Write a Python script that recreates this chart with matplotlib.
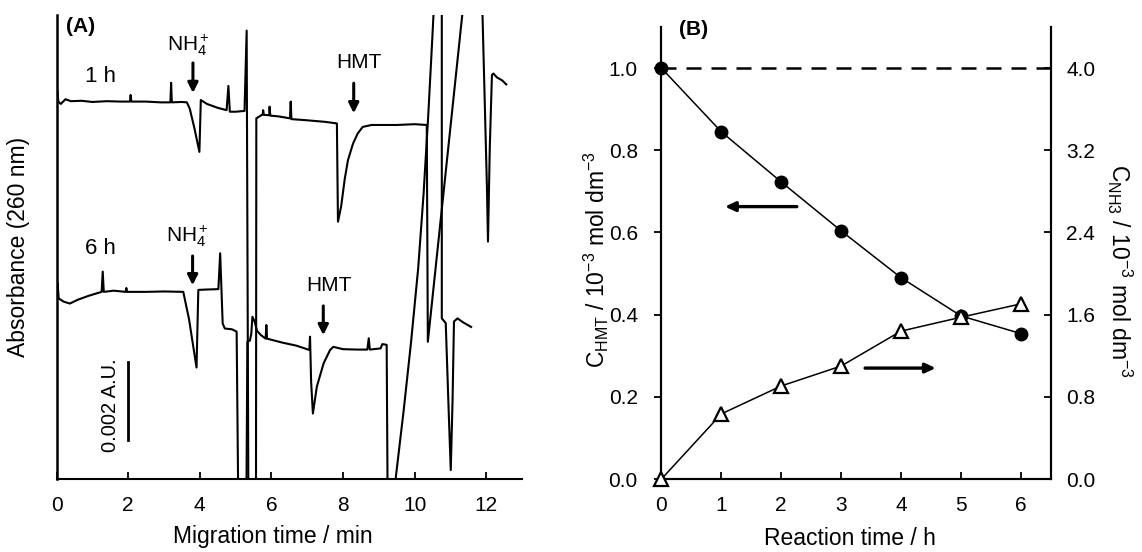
import matplotlib
matplotlib.use('Agg')
import matplotlib.pyplot as plt

plt.rcParams['font.family'] = ['Liberation Sans', 'DejaVu Sans']
plt.rcParams['mathtext.fontset'] = 'custom'
plt.rcParams['mathtext.rm'] = 'Liberation Sans'
plt.rcParams['mathtext.it'] = 'Liberation Sans:italic'
plt.rcParams['mathtext.bf'] = 'Liberation Sans:bold'

# (A) electropherograms, absorbance in mAU (0.002 A.U. = 2 mAU)
t_1h = [0.0, 0.02, 0.05, 0.12, 0.25, 0.4, 0.7, 1.0, 1.4, 1.8, 2.05, 2.07, 2.09, 2.5, 2.9,
        3.18, 3.2, 3.22, 3.5, 3.64, 3.72, 3.85, 3.99, 4.03, 4.2, 4.5, 4.75, 4.8, 4.84, 5.0,
        5.25, 5.31, 5.36, 5.57, 5.58, 5.7, 5.76, 5.77, 5.79, 5.94, 5.95, 5.97, 6.2, 6.52,
        6.54, 6.56, 7.0, 7.5, 7.83, 7.86, 7.95, 8.05, 8.14, 8.28, 8.41, 8.55, 8.8, 9.5,
        10.0, 10.34, 10.37, 11.4, 11.88, 12.02, 12.05, 12.1, 12.16, 12.2, 12.3, 12.45, 12.56]
a_1h = [9.6, 9.97, 9.68, 9.62, 9.74, 9.69, 9.7, 9.67, 9.69, 9.68, 9.68, 9.85, 9.68, 9.68, 9.66,
        9.66, 10.16, 9.66, 9.67, 9.66, 9.5, 9.0, 8.39, 9.72, 9.62, 9.52, 9.46, 10.08, 9.42, 9.42,
        9.44, 11.5, -1.0, -1.0, 9.25, 9.32, 9.35, 9.46, 9.34, 9.33, 9.55, 9.32, 9.3, 9.25,
        9.68, 9.23, 9.2, 9.16, 9.12, 6.6, 7.0, 7.7, 8.18, 8.6, 8.86, 9.03, 9.08, 9.08,
        9.1, 9.08, 3.52, 12.5, 12.5, 7.5, 6.09, 8.5, 10.36, 10.4, 10.3, 10.22, 10.12]

t_6h = [0.0, 0.03, 0.06, 0.2, 0.37, 0.6, 0.9, 1.26, 1.29, 1.32, 1.6, 1.93, 1.95, 1.97, 2.5,
        3.0, 3.54, 3.7, 3.91, 3.96, 4.2, 4.52, 4.57, 4.64, 4.7, 4.9, 5.03, 5.08, 5.3, 5.33,
        5.4, 5.44, 5.47, 5.53, 5.6, 5.71, 5.84, 5.86, 5.88, 6.3, 6.7, 7.06, 7.08, 7.11, 7.16,
        7.27, 7.46, 7.64, 7.73, 8.0, 8.4, 8.68, 8.72, 8.75, 9.05, 9.1, 9.17, 9.22, 9.25, 9.45,
        9.47, 9.7, 9.9, 10.1, 10.25, 10.38, 10.5, 10.56, 10.76, 10.76, 10.87, 10.95, 11.01,
        11.06, 11.1, 11.2, 11.35, 11.58]
a_6h = [4.55, 5.02, 4.63, 4.55, 4.5, 4.6, 4.7, 4.8, 5.32, 4.8, 4.83, 4.8, 4.9, 4.8, 4.8,
        4.81, 4.8, 4.1, 2.86, 4.85, 4.86, 4.87, 5.79, 3.99, 3.86, 3.84, 3.78, -1.0, -1.0, 3.52,
        3.55, 3.73, 4.16, 4.05, 3.8, 3.69, 3.6, 3.95, 3.6, 3.5, 3.42, 3.31, 3.65, 2.5, 1.68,
        2.37, 2.97, 3.31, 3.39, 3.33, 3.32, 3.32, 3.61, 3.32, 3.35, 3.46, 3.45, 3.44, -1.0, -1.0,
        0.0, 1.8, 3.5, 5.4, 7.3, 9.3, 11.4, 12.5, 12.5, 4.12, 4.0, 1.8, 0.23,
        2.0, 4.04, 4.12, 4.02, 3.9]

# (B) concentrations vs reaction time
hours = [0, 1, 2, 3, 4, 5, 6]
c_hmt = [1.0, 0.845, 0.723, 0.604, 0.49, 0.397, 0.354]
c_nh3 = [0.0, 0.634, 0.906, 1.10, 1.44, 1.575, 1.705]
c_initial = 1.0

fig = plt.figure(figsize=(11.42, 5.52), dpi=100)

# ---------- panel A ----------
axA = fig.add_axes([0.0495, 0.1322, 0.4076, 0.8406])
axA.plot(t_1h, a_1h, color='black', lw=1.5)
axA.plot(t_6h, a_6h, color='black', lw=1.5)
axA.set_xlim(0, 13)
axA.set_ylim(0, 11.9)
axA.set_xticks([0, 2, 4, 6, 8, 10, 12])
axA.set_yticks([])
for s in ['top', 'right']:
    axA.spines[s].set_visible(False)
axA.spines['left'].set_linewidth(1.8)
axA.spines['bottom'].set_linewidth(1.5)
axA.tick_params(axis='x', direction='in', length=5, width=1.3, labelsize=15, pad=12)
axA.set_xlabel('Migration time / min', fontsize=16.5)
axA.xaxis.set_label_coords(0.464, -0.1)
axA.set_ylabel('Absorbance (260 nm)', fontsize=16.5)
axA.yaxis.set_label_coords(-0.057, 0.5)

axA.text(0.27, 11.6, '(A)', fontsize=15, fontweight='bold', ha='left', va='center')
axA.text(1.22, 10.32, '1 h', fontsize=16, ha='center', va='center')
axA.text(1.22, 5.92, '6 h', fontsize=16, ha='center', va='center')
axA.text(3.67, 11.13, r'NH$_4^+$', fontsize=15, ha='center', va='center')
axA.text(3.64, 6.24, r'NH$_4^+$', fontsize=15, ha='center', va='center')
axA.text(8.44, 10.67, 'HMT', fontsize=15, ha='center', va='center')
axA.text(7.61, 4.97, 'HMT', fontsize=15, ha='center', va='center')

arrow_kw = dict(arrowstyle='-|>,head_length=0.6,head_width=0.3', lw=2.2,
                color='black', shrinkA=0, shrinkB=0)
axA.annotate('', xy=(3.81, 9.9), xytext=(3.81, 10.67), arrowprops=arrow_kw)
axA.annotate('', xy=(8.3, 9.38), xytext=(8.3, 10.15), arrowprops=arrow_kw)
axA.annotate('', xy=(3.8, 4.97), xytext=(3.8, 5.72), arrowprops=arrow_kw)
axA.annotate('', xy=(7.45, 3.69), xytext=(7.45, 4.44), arrowprops=arrow_kw)

# scale bar 0.002 A.U.
axA.plot([1.99, 1.99], [1.0, 3.0], color='black', lw=2)
axA.text(1.51, 1.9, '0.002 A.U.', fontsize=14.5, rotation=90, ha='center', va='center')

# ---------- panel B ----------
axB = fig.add_axes([0.5792, 0.1322, 0.3409, 0.8188])
axB2 = axB.twinx()
axB.plot(hours, c_hmt, color='black', lw=1.1, marker='o', markersize=9,
         markerfacecolor='black', clip_on=False, zorder=3)
axB2.plot(hours, c_nh3, color='black', lw=1.1, marker='^', markersize=10,
          markerfacecolor='white', markeredgewidth=1.6, clip_on=False, zorder=3)
axB.plot([0, 6.5], [c_initial, c_initial], color='black', lw=1.8, linestyle=(0, (6, 4)))

axB.set_xlim(0, 6.5)
axB.set_ylim(0, 1.1)
axB2.set_ylim(0, 4.4)
axB.set_xticks(hours)
axB.set_yticks([0.0, 0.2, 0.4, 0.6, 0.8, 1.0])
axB.set_yticklabels(['0.0', '0.2', '0.4', '0.6', '0.8', '1.0'])
axB2.set_yticks([0.0, 0.8, 1.6, 2.4, 3.2, 4.0])
axB2.set_yticklabels(['0.0', '0.8', '1.6', '2.4', '3.2', '4.0'])
for ax in (axB, axB2):
    ax.spines['top'].set_visible(False)
    for s in ['left', 'right', 'bottom']:
        ax.spines[s].set_linewidth(1.5)
axB.tick_params(axis='x', direction='in', length=5, width=1.3, labelsize=15, pad=12)
axB.tick_params(axis='y', direction='out', length=5, width=1.3, labelsize=15, pad=12)
axB2.tick_params(axis='y', direction='in', length=5, width=1.3, labelsize=15, pad=11)

axB.set_xlabel('Reaction time / h', fontsize=16.5)
axB.xaxis.set_label_coords(0.484, -0.106)
axB.set_ylabel(r'C$_{\mathrm{HMT}}$ / 10$^{-3}$ mol dm$^{-3}$', fontsize=16.5)
axB.yaxis.set_label_coords(-0.13, 0.485)
axB2.set_ylabel(r'C$_{\mathrm{NH3}}$ / 10$^{-3}$ mol dm$^{-3}$', fontsize=16.5, rotation=270)
axB2.yaxis.set_label_coords(1.215, 0.46)

axB.text(0.3, 1.095, '(B)', fontsize=15, fontweight='bold', ha='left', va='center')
arrowB = dict(arrowstyle='-|>,head_length=0.6,head_width=0.28', lw=2.4,
              color='black', shrinkA=0, shrinkB=0)
axB.annotate('', xy=(1.06, 0.663), xytext=(2.26, 0.663), arrowprops=arrowB)
axB.annotate('', xy=(4.58, 0.27), xytext=(3.40, 0.27), arrowprops=arrowB)

fig.savefig('out.png', dpi=100)
